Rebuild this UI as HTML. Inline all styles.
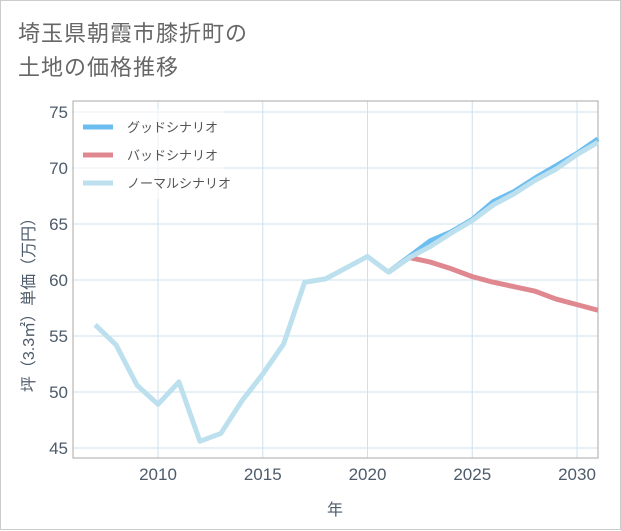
<!DOCTYPE html>
<html><head><meta charset="utf-8"><style>
body{margin:0;background:#fff;}
#wrap{position:relative;width:619px;height:528px;border:1px solid #ccc;background:#fff;font-family:"Liberation Sans","Noto Sans CJK JP",sans-serif;}
.title{position:absolute;left:17px;top:16px;font-size:22px;line-height:34px;color:#666;letter-spacing:1px;}
svg{position:absolute;left:0;top:0;}
</style></head><body>
<div id="wrap">
<div class="title">埼玉県朝霞市膝折町の<br>土地の価格推移</div>
<svg id="chart" width="621" height="530"></svg>
</div>
<script>
const years=[2007,2008,2009,2010,2011,2012,2013,2014,2015,2016,2017,2018,2019,2020,2021,2022,2023,2024,2025,2026,2027,2028,2029,2030,2031];
const normalVals=[56,54.2,50.6,48.9,50.9,45.6,46.3,49.2,51.6,54.3,59.8,60.1,61.1,62.1,60.7,62.0,63.0,64.2,65.3,66.7,67.7,68.9,69.9,71.2,72.3];
const goodYears=[2021,2022,2023,2024,2025,2026,2027,2028,2029,2030,2031];
const goodVals=[60.7,62.1,63.5,64.3,65.4,67.0,67.9,69.1,70.2,71.3,72.6];
const badVals=[60.7,62.0,61.6,61.0,60.3,59.8,59.4,59.0,58.3,57.8,57.3];
const xTicks=[2010,2015,2020,2025,2030];
const yTicks=[45,50,55,60,65,70,75];
const NS='http://www.w3.org/2000/svg';
const svg=document.getElementById('chart');
const L=72,R=597,T=100,B=457;
const x=v=>157+(v-2010)*(576-157)/20;
const y=v=>447-(v-45)*(447-111)/30;
function el(tag,attrs,parent){const e=document.createElementNS(NS,tag);for(const k in attrs)e.setAttribute(k,attrs[k]);(parent||svg).appendChild(e);return e;}
const grid=el('g',{});


xTicks.forEach(t=>{el('line',{x1:x(t),x2:x(t),y1:T,y2:B,stroke:'#cfe0ea','stroke-width':1},grid);
 const tx=el('text',{x:x(t),y:479,'text-anchor':'middle','font-size':17,fill:'#4d5b6b'});tx.textContent=t;
 
 });
yTicks.forEach(t=>{el('line',{x1:L,x2:R,y1:y(t),y2:y(t),stroke:'#cfe0ea','stroke-width':1},grid);
 const tx=el('text',{x:67,y:y(t)+6,'text-anchor':'end','font-size':17,fill:'#4d5b6b'});tx.textContent=t;
 
 });
const frame=el('rect',{x:L,y:T,width:R-L,height:B-T,fill:'none',stroke:'#aaa','stroke-width':1});


function line(xs,vs,color,name){const p=el('polyline',{points:xs.map((v,i)=>x(v)+','+y(vs[i])).join(' '),fill:'none',stroke:color,'stroke-width':5,'stroke-linejoin':'round'});
 
 }
line(goodYears,goodVals,'#6cbdf0','good-scenario-line');
line(goodYears,badVals,'#e08890','bad-scenario-line');
line(years,normalVals,'#bde0ee','normal-scenario-line');
const lg=el('g',{});


el('rect',{x:73,y:108,width:150,height:90,fill:'rgba(255,255,255,0.6)'},lg);
[['グッドシナリオ','#6cbdf0',126],['バッドシナリオ','#e08890',154],['ノーマルシナリオ','#bde0ee',182]].forEach(([t,c,yy])=>{
 const sw=el('line',{x1:82,x2:112,y1:yy,y2:yy,stroke:c,'stroke-width':5},lg);
 
 
 const tx=el('text',{x:126,y:yy+5,'font-size':13,fill:'#555'},lg);tx.textContent=t;
 
 });
const xt=el('text',{x:334,y:514,'text-anchor':'middle','font-size':16,fill:'#4d5b6b'});xt.textContent='年';


const yt=el('text',{x:0,y:0,'text-anchor':'middle','font-size':16,fill:'#4d5b6b',transform:'translate(33,300) rotate(-90)'});yt.textContent='坪（3.3㎡）単価（万円）';


</script>
</body></html>
